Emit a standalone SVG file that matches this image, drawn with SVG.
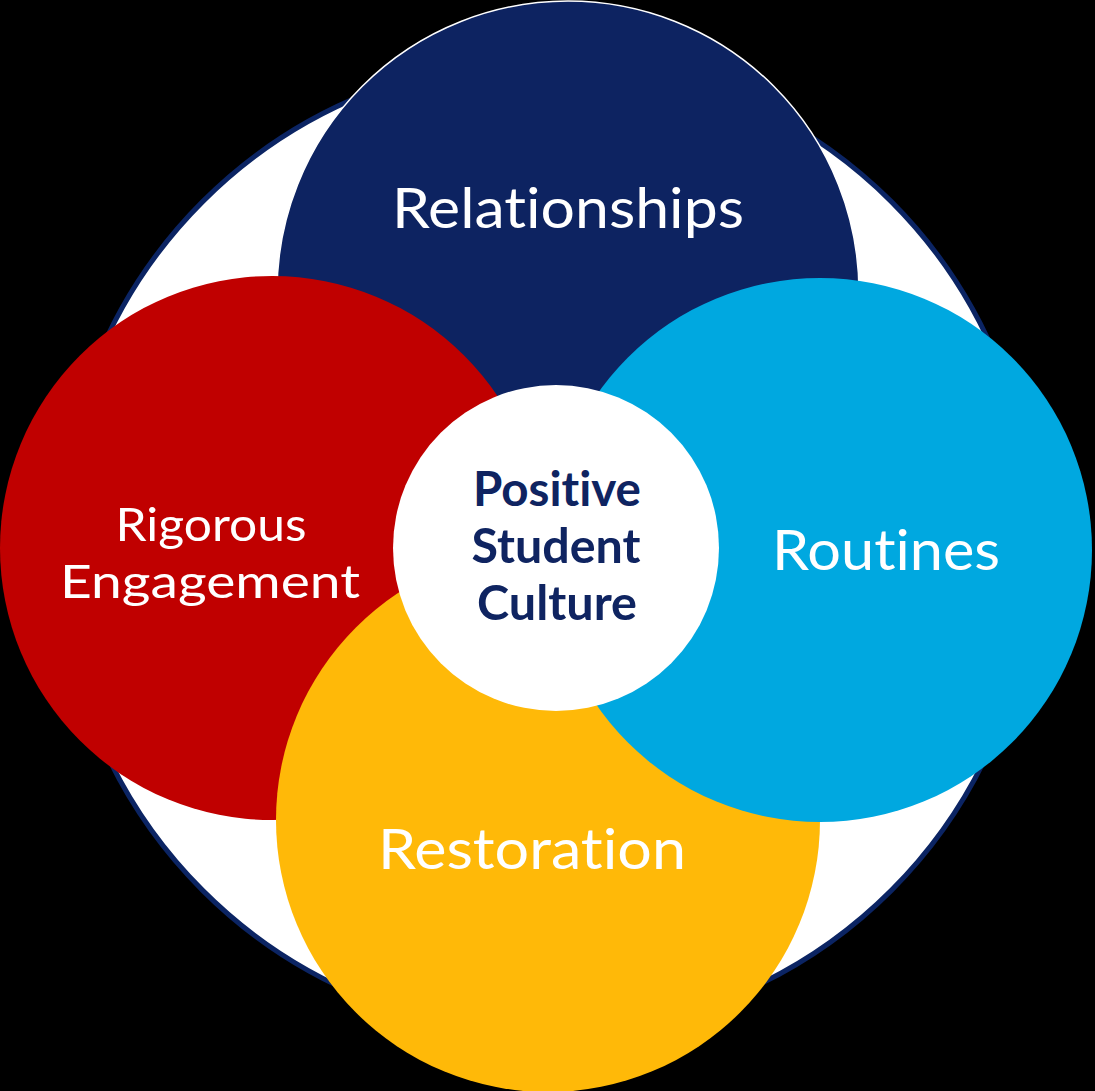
<svg xmlns="http://www.w3.org/2000/svg" width="1095" height="1091" viewBox="0 0 1095 1091">
<style>
text{font-variant-ligatures:none;font-feature-settings:"liga" 0,"clig" 0}
.lbl{font-family:Lato,"Liberation Sans",sans-serif;fill:#ffffff;font-weight:400;text-anchor:middle}
.ctr{font-family:Lato,"Liberation Sans",sans-serif;fill:#0f2461;font-weight:700;font-size:48px;text-anchor:middle}
</style>
<rect x="0" y="0" width="1095" height="1091" fill="#000000"/>
<g id="outer-ring">
<circle cx="547" cy="546" r="487" fill="#ffffff" stroke="#0b2463" stroke-width="5"/>
</g>
<g id="connectors"></g>
<g id="relationships">
<circle cx="568" cy="292" r="291" fill="#0d2361" stroke="#ffffff" stroke-width="1.5"/>
<text class="lbl" x="568" y="228" font-size="57" textLength="352" lengthAdjust="spacingAndGlyphs">Relationships</text>
</g>
<g id="rigorous-engagement">
<circle cx="272" cy="548" r="272" fill="#c00000"/>
<text class="lbl" x="211" y="541" font-size="47" textLength="191" lengthAdjust="spacingAndGlyphs">Rigorous</text>
<text class="lbl" x="210" y="598" font-size="47" textLength="300" lengthAdjust="spacingAndGlyphs">Engagement</text>
</g>
<g id="restoration">
<circle cx="548" cy="820" r="272" fill="#ffb908"/>
<text class="lbl" x="532" y="869" font-size="57" textLength="308" lengthAdjust="spacingAndGlyphs">Restoration</text>
</g>
<g id="routines">
<circle cx="820" cy="550" r="272" fill="#00a8e0"/>
<text class="lbl" x="886" y="570" font-size="57" textLength="228" lengthAdjust="spacingAndGlyphs">Routines</text>
</g>
<g id="positive-student-culture">
<circle cx="556" cy="548" r="163" fill="#ffffff"/>
<text class="ctr" x="557" y="506" textLength="168" lengthAdjust="spacingAndGlyphs">Positive</text>
<text class="ctr" x="556" y="563" textLength="169" lengthAdjust="spacingAndGlyphs">Student</text>
<text class="ctr" x="557" y="620" textLength="160" lengthAdjust="spacingAndGlyphs">Culture</text>
</g>
</svg>
